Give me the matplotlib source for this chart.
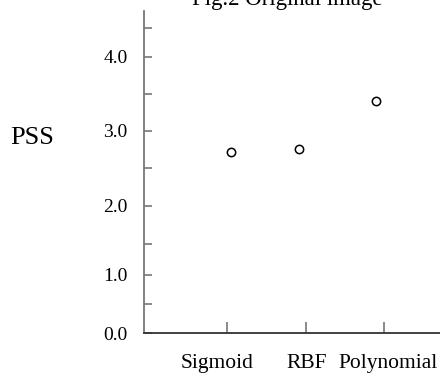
import matplotlib
matplotlib.use("Agg")
import numpy as np
import matplotlib.pyplot as plt
from matplotlib.ticker import FixedLocator
from matplotlib.transforms import ScaledTranslation

categories = ["Sigmoid", "RBF", "Polynomial"]
pss_values = [2.71, 2.76, 3.40]
point_x = [1.05, 1.92, 2.90]
tick_x = [1, 2, 3]
y_major = [0.0, 1.0, 2.0, 3.0, 4.0]
y_minor = [0.5, 1.5, 2.5, 3.5, 4.5]
y_labels = ["0.0", "1.0", "2.0", "3.0", "4.0"]

# The reference's value axis is drawn with uneven spacing between its ticks;
# reproduce it with a piecewise-linear axis scale (value -> relative height).
scale_vals = np.array([0.0, 0.5, 1.0, 1.5, 2.0, 2.5, 3.0, 3.5, 4.0, 4.5, 5.0])
scale_pos = 333.3 - np.array([333.3, 304.3, 275.0, 244.0, 206.0, 168.0,
                              130.7, 94.0, 56.7, 28.0, -0.7])


def fwd(v):
    return np.interp(v, scale_vals, scale_pos)


def inv(p):
    return np.interp(p, scale_pos, scale_vals)


plt.rcParams['font.family'] = ['Liberation Serif', 'DejaVu Serif']

fig = plt.figure(figsize=(4.4, 3.76), dpi=100)
ax = fig.add_axes([0.328, 1 - 333.3 / 376, 0.672, (333.3 - 11) / 376])
ax.set_yscale('function', functions=(fwd, inv))

ax.plot(point_x, pss_values, linestyle='none', marker='o', markersize=6,
        markerfacecolor='white', markeredgecolor='black', markeredgewidth=1.1)

ax.set_xlim(-0.05, 3.71)
ax.set_ylim(0, 4.796)

ax.yaxis.set_major_locator(FixedLocator(y_major))
ax.yaxis.set_minor_locator(FixedLocator(y_minor))
ax.set_yticklabels(y_labels, fontsize=14)
ax.yaxis.set_minor_formatter(plt.NullFormatter())
ax.set_xticks(tick_x)
ax.set_xticklabels(categories, fontsize=15.5)

ax.tick_params(axis='y', which='both', direction='in', length=6, width=1.2,
               color='#777777', pad=12)
ax.tick_params(axis='x', which='both', direction='in', length=8, width=1.2,
               color='#777777', pad=15)

# small horizontal offsets of the category labels as in the reference
offsets_px = [-10, 1, 4]
for lab, dx in zip(ax.get_xticklabels(), offsets_px):
    lab.set_transform(lab.get_transform() + ScaledTranslation(dx / 100, 0, fig.dpi_scale_trans))

for s in ['top', 'right']:
    ax.spines[s].set_visible(False)
ax.spines['left'].set_color('#777777')
ax.spines['left'].set_linewidth(1.3)
ax.spines['bottom'].set_color('#333333')
ax.spines['bottom'].set_linewidth(1.3)

fig.text(0.072, 0.633, "PSS", fontsize=19, ha='center', va='center')
fig.text(0.652, 1.0 - 5 / 376, "Fig.2 Original image", fontsize=16.5,
         ha='center', va='baseline')

fig.savefig("out.png", dpi=100)
